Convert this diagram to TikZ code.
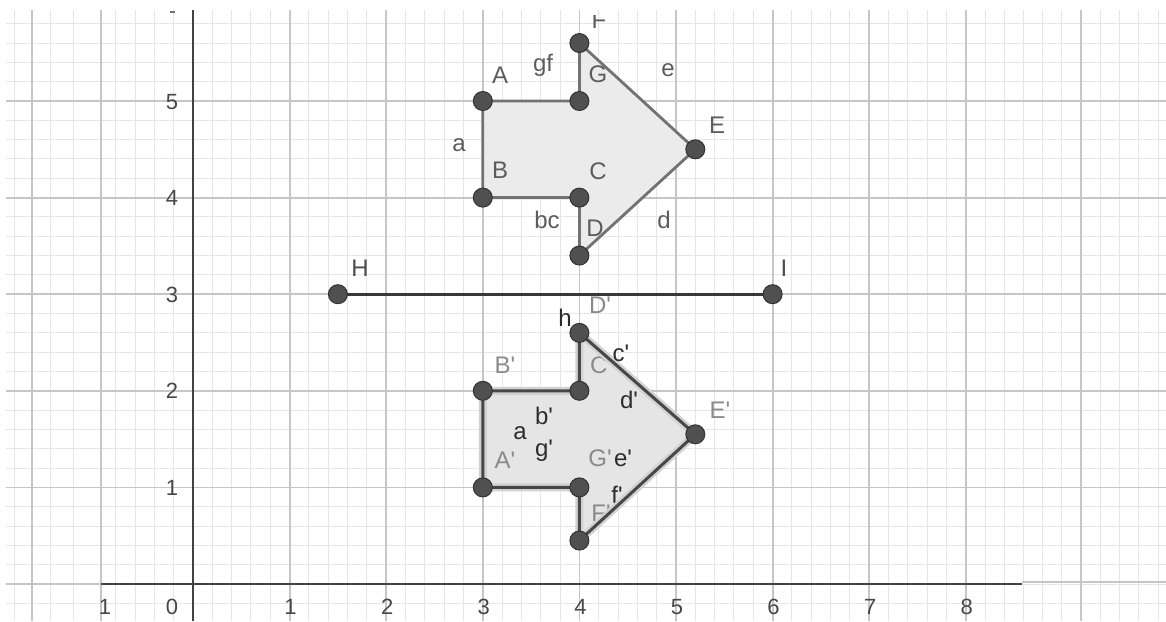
\documentclass[tikz,border=0pt]{standalone}
\usepackage{fontspec}
\setmainfont{Liberation Sans}
\newcommand{\pr}{\textquotesingle}
\definecolor{gmaj}{HTML}{C6C6C6}
\definecolor{gmin}{HTML}{E6E6E6}
\definecolor{axc}{HTML}{424242}
\definecolor{edgeU}{HTML}{727272}
\definecolor{edgeL}{HTML}{474747}
\definecolor{fillU}{HTML}{EBEBEB}
\definecolor{fillL}{HTML}{E5E5E5}
\definecolor{ptc}{HTML}{505050}
\definecolor{lblU}{HTML}{5C5C5C}
\definecolor{lblLp}{HTML}{8A8A8A}
\definecolor{lblLs}{HTML}{2C2C2C}
\definecolor{halo}{HTML}{D2D2D2}
\begin{document}
\begin{tikzpicture}[x=1pt,y=-1pt,
  minorline/.style={draw=gmin,line width=1pt},
  majorline/.style={draw=gmaj,line width=1.8pt},
  axisline/.style={draw=axc,line width=2.2pt},
  ticklbl/.style={font=\fontsize{22}{22}\selectfont,text=black!72,inner sep=0pt,anchor=base},
  lbl/.style={font=\fontsize{24}{24}\selectfont,inner sep=0pt,anchor=base},
  upl/.style={lbl,text=lblU},
  lpl/.style={lbl,text=lblLp},
  lsl/.style={lbl,text=lblLs},
  upedge/.style={draw=edgeU,line width=2.8pt,line join=round},
  lowhalo/.style={draw=halo,line width=8pt,line cap=round,line join=round},
  lowedge/.style={draw=edgeL,line width=3pt,line join=round},
  segline/.style={draw=black!78,line width=3pt},
  gpt/.style={circle,fill=ptc,draw=black!80,line width=1pt,minimum size=19pt,inner sep=0pt}
]
\useasboundingbox (0,0) rectangle (1166,621);
\clip (0,0) rectangle (1166,621);
% ---------- grid ----------
\foreach \j in {-1,...,29} {\draw[minorline] (6,{584-19.32*\j}) -- (1166,{584-19.32*\j});}
\foreach \i in {-4,...,42} {\draw[minorline] ({193+19.32*\i},10) -- ({193+19.32*\i},621);}
\foreach \x in {14,50,73,1023,1042.4,1061.7,1100.3,1119.6,1138.9,1158.2} {\draw[minorline] (\x,10) -- (\x,621);}
\foreach \x in {32,101,1081} {\draw[majorline] (\x,10) -- (\x,621);}
\foreach \X in {1,...,8} {\draw[majorline] ({193+96.6*\X},10) -- ({193+96.6*\X},621);}
\foreach \Y in {1,...,5} {\draw[majorline] (6,{584-96.6*\Y}) -- (1166,{584-96.6*\Y});}
\draw[majorline] (6,584) -- (101,584);
\draw[majorline] (1022,582) -- (1166,582);
\draw[axisline] (101,584) -- (1022,584);
\draw[axisline] (193,10) -- (193,621);
\draw[draw=black!55,line width=1.3pt] (170,12) -- (175,12);
% ---------- axis numbers ----------
\foreach \Y in {1,...,5} {\node[ticklbl] (ty\Y) at (172,{584-96.6*\Y+8}) {\Y};}
\node[ticklbl] (txm1) at (105,614) {1};
\node[ticklbl] (tx0) at (172,614) {0};
\foreach \X in {1,...,8} {\node[ticklbl] (tx\X) at ({194+96.6*\X},614) {\X};}
% ---------- geometry ----------
\begin{scope}[xshift=193pt,yshift=-584pt,x=96.6pt,y=96.6pt]
  \coordinate (A) at (3,5);   \coordinate (B) at (3,4);
  \coordinate (C) at (4,4);   \coordinate (D) at (4,3.4);
  \coordinate (E) at (5.2,4.5); \coordinate (F) at (4,5.6);
  \coordinate (G) at (4,5);
  \coordinate (A1) at (3,1);  \coordinate (B1) at (3,2);
  \coordinate (C1) at (4,2);  \coordinate (D1) at (4,2.6);
  \coordinate (E1) at (5.2,1.55); \coordinate (F1) at (4,0.45);
  \coordinate (G1) at (4,1);
  \coordinate (H) at (1.5,3); \coordinate (I) at (6,3);
\end{scope}
\fill[fillU] (A) -- (B) -- (C) -- (D) -- (E) -- (F) -- (G) -- cycle;
\fill[fillL] (A1) -- (B1) -- (C1) -- (D1) -- (E1) -- (F1) -- (G1) -- cycle;
% labels under the edges
\begin{scope}
  \clip (0,15) rectangle (1166,621);
  \node[upl] (lF) at (599,28) {F};
\end{scope}
\node[upl] (lG) at (598,82) {G};
\node[upl] (lD) at (595,236) {D};
\node[upl] (lC) at (598,179) {C};
\node[lpl] (lD1) at (600,313) {D\pr};
\node[lpl] (lC1) at (601,373) {C\pr};
\node[lpl] (lF1) at (601,521) {F\pr};
\node[lsl] (lf1) at (617,503) {f\pr};
% segment HI
\draw[segline] (H) -- (I);
% upper edges
\draw[upedge] (A) -- (B) -- (C) -- (D) -- (E) -- (F) -- (G) -- cycle;
% lower edges
\draw[lowhalo] (A1) -- (B1) -- (C1) -- (D1) -- (E1) -- (F1) -- (G1) -- cycle;
\draw[lowedge] (A1) -- (B1) -- (C1) -- (D1) -- (E1) -- (F1) -- (G1) -- cycle;
% points
\foreach \p in {A,B,C,D,E,F,G,A1,B1,C1,D1,E1,F1,G1,H,I} {\node[gpt] (p\p) at (\p) {};}
% upper labels
\node[upl] (lA) at (500,83) {A};
\node[upl] (lB) at (500,178) {B};
\node[upl] (lE) at (717,133) {E};
\node[upl] (lgf) at (543,71) {gf};
\node[upl] (le) at (668,76) {e};
\node[upl] (la) at (459,151) {a};
\node[upl] (lbc) at (547,228) {bc};
\node[upl] (ld) at (664,228) {d};
\node[lbl,text=black!70] (lH) at (360,276) {H};
\node[lbl,text=black!70] (lI) at (784,276) {I};
% lower labels
\node[lpl] (lB1) at (505,373) {B\pr};
\node[lpl] (lA1) at (505,468) {A\pr};
\node[lpl] (lE1) at (720,418) {E\pr};
\node[lpl] (lG1) at (600,466) {G\pr};
\node[lsl] (le1) at (623,466) {e\pr};
\node[lsl] (lh) at (565,326) {h};
\node[lsl] (lc1) at (621,361) {c\pr};
\node[lsl] (ld1) at (629,408) {d\pr};
\node[lsl] (lb1) at (544,424) {b\pr};
\node[lsl] (la1) at (520,439) {a};
\node[lsl] (lg1) at (544,456) {g\pr};
\end{tikzpicture}
\end{document}
